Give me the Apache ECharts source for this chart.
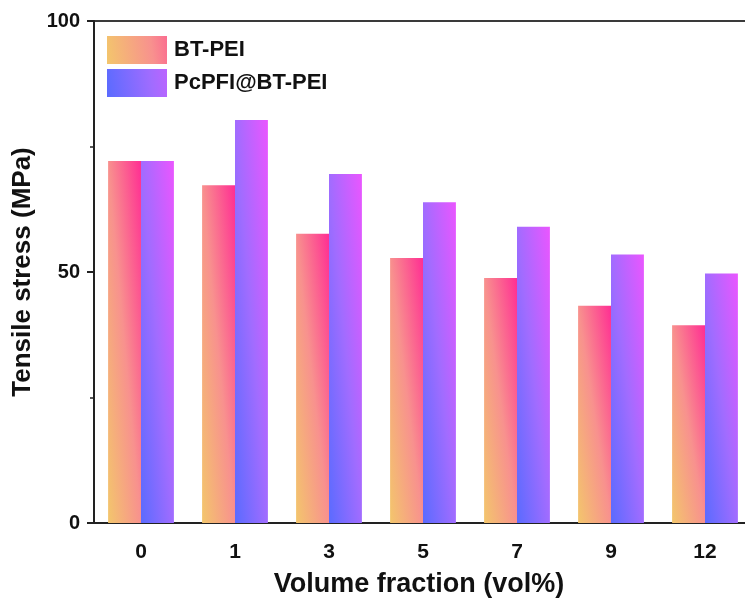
<!DOCTYPE html>
<html>
<head>
<meta charset="utf-8">
<script src="https://cdn.jsdelivr.net/npm/echarts@6/dist/echarts.min.js"></script>
<style>
html,body{margin:0;padding:0;background:#fff;}
#main{width:745px;height:604px;}
</style>
</head>
<body>
<div id="main"></div>
<script>
var categories = ['0','1','3','5','7','9','12'];
var btPei = [72.1, 67.3, 57.6, 52.8, 48.8, 43.3, 39.4];
var pcpfiBtPei = [72.1, 80.3, 69.5, 63.9, 59.0, 53.5, 49.7];
var yTicks = [0, 50, 100];

var FONT = 'Liberation Sans, Arial, sans-serif';
var PX_PER_UNIT = 5.02;  // approx pixel height per MPa, for the slanted fill
var BAR_W = 33;

// slanted gradient: colour runs from bottom-left corner to top-right corner,
// isolines along the top-left / bottom-right diagonal of each bar
function slantFill(c0, c1, c2, h) {
	var w = BAR_W;
	var d = w * w + h * h;
	return {
		type: 'linear',
		x: 0, y: 1,
		x2: 2 * h * h / d,
		y2: 1 - 2 * w * w / d,
		colorStops: [
			{offset: 0, color: c0},
			{offset: 0.5, color: c1},
			{offset: 1, color: c2}
		]
	};
}
var btColors = ['#F3C66C', '#F8918E', '#FF2E93'];
var pcColors = ['#5A6BFF', '#A16CFF', '#EA56FF'];

var chart = echarts.init(document.getElementById('main'));
var option = {
	animation: false,
	grid: {
		left: 94, top: 21, width: 658, height: 502,
		outerBoundsMode: 'none',
		containLabel: false,
		show: true, borderColor: '#3a3a3a', borderWidth: 2
	},
	legend: {
		left: 107, top: 36,
		padding: 0,
		orient: 'vertical',
		itemWidth: 60, itemHeight: 28, itemGap: 5,
		icon: 'rect',
		textStyle: {fontFamily: FONT, fontSize: 22, fontWeight: 'bold', color: '#111', padding: [0, 0, 0, 2]},
		data: [
			{name: 'BT-PEI', itemStyle: {color: slantFill(btColors[0], btColors[1], btColors[2], 60)}},
			{name: 'PcPFI@BT-PEI', itemStyle: {color: slantFill(pcColors[0], pcColors[1], pcColors[2], 60)}}
		]
	},
	xAxis: [{
		type: 'category',
		data: categories,
		name: 'Volume fraction (vol%)',
		nameLocation: 'middle',
		nameGap: 48,
		nameTextStyle: {fontFamily: FONT, fontSize: 27, fontWeight: 'bold', color: '#111', padding: [0, 0, 0, -8]},
		axisLine: {lineStyle: {color: '#222', width: 2}},
		axisTick: {alignWithLabel: true, inside: true, length: 8, lineStyle: {color: '#222', width: 2}},
		axisLabel: {fontFamily: FONT, fontSize: 21, fontWeight: 'bold', color: '#111', margin: 19}
	}, {
		type: 'category',
		data: categories,
		position: 'bottom',
		axisLine: {show: false},
		axisTick: {inside: true, length: 4, lineStyle: {color: '#222', width: 2}},
		axisLabel: {show: false}
	}],
	yAxis: {
		type: 'value',
		min: yTicks[0], max: yTicks[yTicks.length - 1], interval: 50,
		name: 'Tensile stress (MPa)',
		nameLocation: 'middle',
		nameGap: 39,
		nameTextStyle: {fontFamily: FONT, fontSize: 26, fontWeight: 'bold', color: '#111'},
		axisLine: {show: true, lineStyle: {color: '#222', width: 2}},
		axisTick: {show: true, length: 7, lineStyle: {color: '#222', width: 2}},
		minorTick: {show: true, splitNumber: 2, length: 4, lineStyle: {color: '#222', width: 1.5}},
		splitLine: {show: false},
		axisLabel: {fontFamily: FONT, fontSize: 20, fontWeight: 'bold', color: '#111', margin: 14}
	},
	series: [{
		name: 'BT-PEI',
		type: 'bar',
		data: btPei,
		barGap: 0,
		barCategoryGap: '30%',
		itemStyle: {
			color: function (p) { return slantFill(btColors[0], btColors[1], btColors[2], p.value * PX_PER_UNIT); }
		}
	}, {
		name: 'PcPFI@BT-PEI',
		type: 'bar',
		data: pcpfiBtPei,
		barGap: 0,
		barCategoryGap: '30%',
		itemStyle: {
			color: function (p) { return slantFill(pcColors[0], pcColors[1], pcColors[2], p.value * PX_PER_UNIT); }
		}
	}]
};
chart.setOption(option);
</script>
</body>
</html>
